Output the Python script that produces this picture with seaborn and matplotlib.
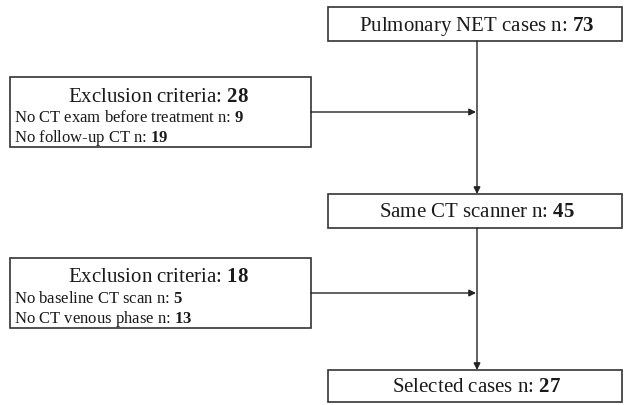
import matplotlib.pyplot as plt
import seaborn as sns
from matplotlib.patches import Rectangle

# ================================================================
# Data
# ================================================================
main_labels = ["Pulmonary NET cases n:", "Same CT scanner n:", "Selected cases n:"]
main_counts = [73, 45, 27]

excl_totals = [28, 18]
excl_reasons = [
    ["No CT exam before treatment n:", "No follow-up CT n:"],
    ["No baseline CT scan n:", "No CT venous phase n:"],
]
excl_counts = [[9, 19], [5, 13]]

# ================================================================
# Style
# ================================================================
sns.set_theme(style="white")
plt.rcParams["font.family"] = ["Liberation Serif", "DejaVu Serif"]
plt.rcParams["mathtext.fontset"] = "custom"
plt.rcParams["mathtext.rm"] = "Liberation Serif"
plt.rcParams["mathtext.bf"] = "Liberation Serif:bold"

fig = plt.figure(figsize=(6.24, 4.06), dpi=100)
ax = fig.add_axes([0, 0, 1, 1])
ax.set_xlim(0, 624)
ax.set_ylim(406, 0)
ax.axis("off")

edge = "#333333"
txt = "#1a1a1a"

# main column boxes (top, height)
main_boxes = [(8, 34), (195, 34), (371, 32)]
mx0, mx1 = 328, 622
cx = 477
for (top, h), lab, n in zip(main_boxes, main_labels, main_counts):
    ax.add_patch(Rectangle((mx0, top), mx1 - mx0, h, fill=False, ec=edge, lw=1.2))
    ax.text((mx0 + mx1) / 2 + 2, top + h / 2 + 1, f"{lab} $\\mathbf{{{n}}}$",
            ha="center", va="center", fontsize=15, color=txt)

# vertical arrows between main boxes
arrow_kw = dict(arrowstyle="-|>", color="#222222", lw=1.0, mutation_scale=10,
                shrinkA=0, shrinkB=0)
ax.annotate("", xy=(cx, 195), xytext=(cx, 42), arrowprops=arrow_kw)
ax.annotate("", xy=(cx, 371), xytext=(cx, 229), arrowprops=arrow_kw)

# exclusion boxes
excl_tops = [78, 259]
ex0, ex1 = 10, 311
for top, tot, reasons, counts in zip(excl_tops, excl_totals, excl_reasons, excl_counts):
    ax.add_patch(Rectangle((ex0, top), ex1 - ex0, 70, fill=False, ec=edge, lw=1.2))
    ax.text((ex0 + ex1) / 2 - 2, top + 19, f"Exclusion criteria: $\\mathbf{{{tot}}}$",
            ha="center", va="center", fontsize=15, color=txt)
    for i, (r, c) in enumerate(zip(reasons, counts)):
        ax.text(ex0 + 4, top + 40 + 20 * i, f"{r} $\\mathbf{{{c}}}$",
                ha="left", va="center", fontsize=12, color=txt)
    ax.annotate("", xy=(cx - 1, top + 35), xytext=(ex1, top + 35), arrowprops=arrow_kw)

fig.savefig("out.png", dpi=100)
